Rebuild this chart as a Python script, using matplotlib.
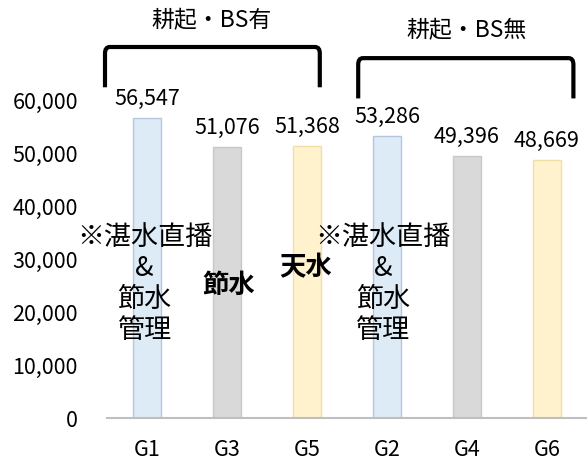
import numpy as np
import matplotlib.pyplot as plt
from matplotlib.path import Path
from matplotlib.patches import PathPatch

plt.rcParams['font.family'] = ['Noto Sans CJK JP', 'DejaVu Sans']

# data
groups = ['G1', 'G3', 'G5', 'G2', 'G4', 'G6']
values = [56547, 51076, 51368, 53286, 49396, 48669]
fill_colors = ['#DDEBF7', '#D9D9D9', '#FFF2CC', '#DDEBF7', '#D9D9D9', '#FFF2CC']
edge_colors = ['#B4C7DC', '#C8C8C8', '#F2DFA6', '#B4C7DC', '#C8C8C8', '#F2DFA6']
yticks = [0, 10000, 20000, 30000, 40000, 50000, 60000]
group_titles = ['耕起・BS有', '耕起・BS無']


def bracket(ax, x0, x1, y_top, y_bot, r=0.06, ry=1200):
    # bracket shape with rounded corners, in data coords
    verts = [(x0, y_bot), (x0, y_top - ry), (x0, y_top), (x0 + r, y_top),
             (x1 - r, y_top), (x1, y_top), (x1, y_top - ry), (x1, y_bot)]
    codes = [Path.MOVETO, Path.LINETO, Path.CURVE3, Path.CURVE3,
             Path.LINETO, Path.CURVE3, Path.CURVE3, Path.LINETO]
    p = PathPatch(Path(verts, codes), fill=False, lw=3, color='black',
                  capstyle='butt', clip_on=False)
    ax.add_patch(p)


fig = plt.figure(figsize=(5.87, 4.65), dpi=100)
ax = fig.add_axes([107/587, 47/465, 480/587, 318/465])

x = np.arange(len(groups))
ax.bar(x, values, width=0.34, color=fill_colors, edgecolor=edge_colors, linewidth=1)

# value labels
for xi, v in zip(x, values):
    ax.text(xi, v + 1500, f'{v:,}', ha='center', va='bottom', fontsize=15.5)

ax.set_xlim(-0.5, 5.5)
ax.set_ylim(0, 60000)
ax.set_yticks(yticks)
ax.set_yticklabels([f'{t:,}' for t in yticks], fontsize=15.5)
ax.set_xticks(x)
ax.set_xticklabels(groups, fontsize=15.5)
ax.tick_params(axis='both', length=0, colors='black')
ax.tick_params(axis='y', pad=21)
ax.tick_params(axis='x', pad=15)
for s in ['top', 'right', 'left']:
    ax.spines[s].set_visible(False)
ax.spines['bottom'].set_color('#BFBFBF')
ax.spines['bottom'].set_linewidth(1.5)

# notes inside the chart
note = '※湛水直播\n&\n節水\n管理'
ax.text(-0.03, 25300, note, ha='center', va='center',
        fontsize=19.5, linespacing=1.2, clip_on=False)
ax.text(2.95, 25300, note, ha='center', va='center',
        fontsize=19.5, linespacing=1.2, clip_on=False)
ax.text(1.02, 25100, '節水', ha='center', va='center', fontsize=19, fontweight='bold')
ax.text(1.98, 28300, '天水', ha='center', va='center', fontsize=19, fontweight='bold')

# group brackets and titles
bracket(ax, -0.525, 2.16, 70000, 62400)
bracket(ax, 2.64, 5.33, 67900, 60300)
ax.text(0.81, 75000, group_titles[0], ha='center', va='center', fontsize=16.5, clip_on=False)
ax.text(3.99, 73100, group_titles[1], ha='center', va='center', fontsize=16.5, clip_on=False)

fig.savefig('out.png', dpi=100)
